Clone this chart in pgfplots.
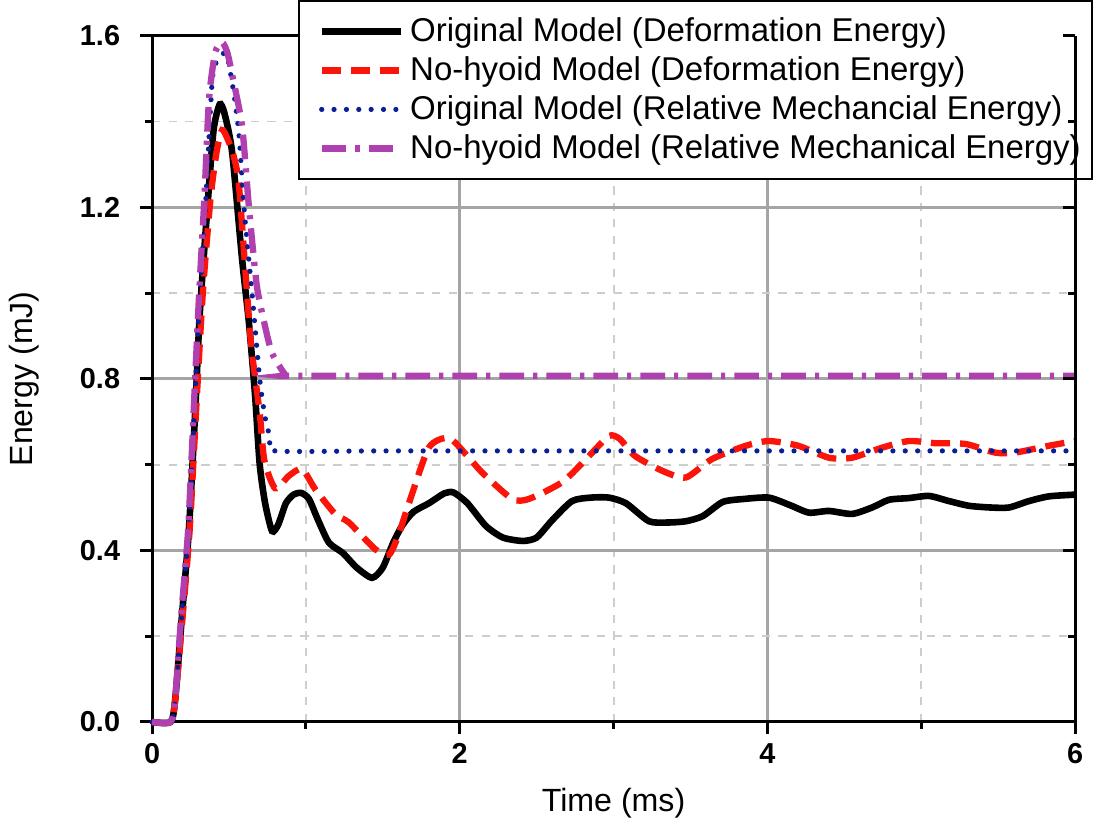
\documentclass[border=0pt]{standalone}
\usepackage{pgfplots}
\pgfplotsset{compat=1.18}
\usepackage{fontspec}
\setmainfont{Liberation Sans}
\definecolor{cRed}{RGB}{250,20,10}
\definecolor{cBlue}{RGB}{10,30,150}
\definecolor{cMag}{RGB}{176,64,176}
\definecolor{gridMaj}{RGB}{165,165,165}
\definecolor{gridMin}{RGB}{205,205,205}

\begin{document}
\begin{tikzpicture}
\pgfplotsset{
  base/.style={
    scale only axis,
    width=11.81cm, height=8.78cm,
    xmin=0, xmax=6, ymin=0, ymax=1.6,
    xtick={0,2,4,6}, ytick={0,0.4,0.8,1.2,1.6},
    minor x tick num=1, minor y tick num=1,
    major tick length=1.55mm, minor tick length=0.9mm,
    every tick/.style={line width=1.1pt, black},
  }
}
\begin{axis}[
  base,
  axis line style={line width=1.1pt},
  tick align=outside,
  xtick pos=bottom, ytick pos=left,
  grid=both,
  major grid style={solid, gridMaj, line width=1pt},
  minor grid style={dashed, gridMin, line width=0.7pt},
  /pgf/number format/assume math mode=true,
  tick label style={font=\fontsize{10.5}{12}\selectfont\bfseries},
  yticklabel style={xshift=-1.3mm, /pgf/number format/fixed, /pgf/number format/precision=1, /pgf/number format/fixed zerofill},
  xlabel={Time (ms)}, ylabel={Energy (mJ)},
  label style={font=\fontsize{11.7}{14}\selectfont},
  xlabel style={yshift=-2pt},
  ylabel style={yshift=8pt},
  clip=false,
  legend cell align=left,
  legend image code/.code={\path (-0.18cm,0cm); \draw[#1] (0cm,0cm) -- (1.02cm,0cm);},
  legend style={at={(rel axis cs:0.158,1.052)}, anchor=north west,
    font=\fontsize{12}{14}\selectfont, draw=black, line width=0.7pt, fill=white,
    inner xsep=2pt, inner ysep=4pt, row sep=0pt},
]
\addplot[black, line width=2.4pt, smooth, tension=0.4] coordinates {
(0,0) (0.12,0) (0.15,0.05) (0.195,0.25) (0.24,0.45) (0.28,0.72) (0.31,0.95) (0.36,1.20) (0.40,1.38) (0.44,1.44) (0.47,1.42) (0.52,1.33) (0.585,1.08) (0.63,0.93) (0.67,0.76) (0.70,0.60) (0.735,0.51) (0.78,0.445) (0.82,0.46) (0.87,0.51) (0.92,0.53) (0.97,0.534) (1.02,0.52) (1.08,0.47) (1.15,0.418) (1.24,0.394) (1.33,0.36) (1.43,0.336) (1.50,0.36) (1.57,0.42) (1.63,0.46) (1.70,0.49) (1.80,0.51) (1.90,0.533) (1.96,0.535) (2.05,0.51) (2.17,0.457) (2.28,0.43) (2.41,0.422) (2.50,0.43) (2.60,0.47) (2.73,0.515) (2.85,0.523) (2.97,0.523) (3.08,0.51) (3.23,0.468) (3.35,0.465) (3.47,0.468) (3.58,0.48) (3.71,0.513) (3.85,0.52) (4.01,0.523) (4.15,0.505) (4.27,0.488) (4.40,0.492) (4.55,0.485) (4.68,0.50) (4.79,0.518) (4.92,0.522) (5.05,0.527) (5.18,0.515) (5.31,0.504) (5.45,0.50) (5.57,0.50) (5.70,0.515) (5.83,0.526) (6.0,0.53)
};
\addplot[cRed, line width=2.3pt, line cap=butt, dash pattern=on 7pt off 3.6pt, smooth, tension=0.4] coordinates {
(0,0) (0.12,0) (0.15,0.05) (0.20,0.25) (0.245,0.45) (0.29,0.75) (0.33,1.00) (0.38,1.22) (0.42,1.33) (0.455,1.38) (0.49,1.36) (0.53,1.32) (0.565,1.25) (0.63,0.94) (0.65,0.86) (0.70,0.72) (0.73,0.61) (0.80,0.545) (0.89,0.574) (0.975,0.59) (1.06,0.543) (1.19,0.485) (1.28,0.465) (1.45,0.403) (1.54,0.39) (1.60,0.434) (1.67,0.51) (1.80,0.64) (1.93,0.662) (2.05,0.62) (2.15,0.58) (2.34,0.52) (2.45,0.52) (2.67,0.56) (2.84,0.62) (2.97,0.667) (3.04,0.66) (3.14,0.62) (3.32,0.585) (3.47,0.57) (3.64,0.613) (3.86,0.644) (4.01,0.655) (4.20,0.644) (4.40,0.616) (4.55,0.616) (4.75,0.64) (4.92,0.655) (5.09,0.65) (5.29,0.648) (5.48,0.628) (5.61,0.628) (5.83,0.644) (6.0,0.655)
};
\addplot[cBlue, line width=1.9pt, line cap=round, dash pattern=on 0pt off 4.5pt, smooth, tension=0.4] coordinates {
(0,0) (0.12,0) (0.15,0.05) (0.195,0.26) (0.24,0.46) (0.28,0.76) (0.31,0.99) (0.35,1.22) (0.39,1.49) (0.42,1.54) (0.47,1.56) (0.49,1.55) (0.53,1.47) (0.565,1.37) (0.60,1.19) (0.65,1.0) (0.70,0.80) (0.735,0.71) (0.77,0.66) (0.80,0.632) (1.5,0.632) (3,0.632) (4.5,0.632) (6.0,0.632)
};
\addplot[cMag, line width=2.3pt, line cap=butt, dash pattern=on 9pt off 3.3pt on 1.5pt off 3.3pt, smooth, tension=0.4] coordinates {
(0,0) (0.12,0) (0.15,0.05) (0.19,0.25) (0.235,0.45) (0.275,0.76) (0.305,0.99) (0.34,1.22) (0.37,1.45) (0.41,1.56) (0.455,1.585) (0.49,1.56) (0.52,1.51) (0.585,1.39) (0.63,1.20) (0.68,1.02) (0.73,0.93) (0.78,0.86) (0.865,0.81) (0.9,0.807) (2,0.807) (4,0.807) (6.0,0.807)
};
\legend{Original Model (Deformation Energy),No-hyoid Model (Deformation Energy),Original Model (Relative Mechancial Energy),No-hyoid Model (Relative Mechanical Energy)}
\end{axis}
\begin{axis}[
  base,
  axis x line=none,
  axis y line*=right,
  axis line style={line width=1.1pt},
  tick align=inside,
  yticklabels={},
]
\end{axis}
\end{tikzpicture}
\end{document}
